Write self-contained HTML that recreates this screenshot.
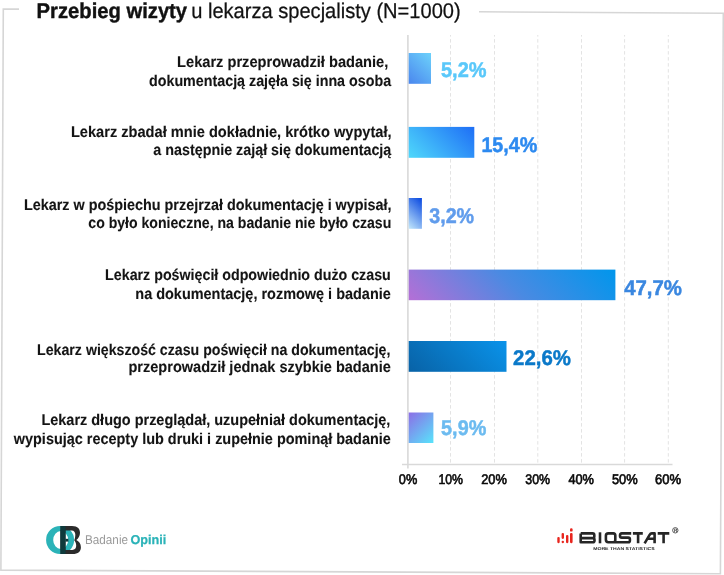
<!DOCTYPE html>
<html><head><meta charset="utf-8"><style>
html,body{margin:0;padding:0;background:#fff;overflow:hidden;width:724px;height:575px;}
svg{display:block;will-change:transform;}
text{font-family:"Liberation Sans", sans-serif;text-rendering:geometricPrecision;}
</style></head><body>
<svg width="724" height="575" viewBox="0 0 724 575">
<defs><linearGradient id="g1" gradientUnits="userSpaceOnUse" x1="406.58" y1="81.68" x2="433.12" y2="55.12"><stop offset="0" stop-color="#4a86ee"/><stop offset="1" stop-color="#6dd2fb"/></linearGradient>
<linearGradient id="g2" gradientUnits="userSpaceOnUse" x1="417.38" y1="166.48" x2="465.62" y2="118.23"><stop offset="0" stop-color="#4fd8fb"/><stop offset="1" stop-color="#1e6ef6"/></linearGradient>
<linearGradient id="g3" gradientUnits="userSpaceOnUse" x1="404.30" y1="224.40" x2="426.30" y2="202.40"><stop offset="0" stop-color="#c4e8fb"/><stop offset="1" stop-color="#0646e0"/></linearGradient>
<linearGradient id="g4" gradientUnits="userSpaceOnUse" x1="452.72" y1="344.22" x2="571.38" y2="225.57"><stop offset="0" stop-color="#b56fd6"/><stop offset="0.5" stop-color="#4a8ae2"/><stop offset="1" stop-color="#0096ec"/></linearGradient>
<linearGradient id="g5" gradientUnits="userSpaceOnUse" x1="425.45" y1="388.55" x2="489.75" y2="324.25"><stop offset="0" stop-color="#0862a6"/><stop offset="1" stop-color="#0a93ea"/></linearGradient>
<linearGradient id="g6" gradientUnits="userSpaceOnUse" x1="407.25" y1="413.95" x2="434.85" y2="441.55"><stop offset="0" stop-color="#8c6ee6"/><stop offset="1" stop-color="#58e4fb"/></linearGradient>
</defs>
<rect x="0" y="0" width="724" height="575" fill="#ffffff"/>
<path d="M19 9.15 L3.3 9.1 L0.9 570.1 L720.4 573.7 L723.3 13.3 L479 11.8" fill="none" stroke="#d6d6d6" stroke-width="1.6"/>
<line x1="450.50" y1="35" x2="450.50" y2="464" stroke="#e3e3e3" stroke-width="1" stroke-dasharray="3.5 2.5" stroke-dashoffset="1.9"/>
<line x1="494.50" y1="35" x2="494.50" y2="464" stroke="#e3e3e3" stroke-width="1" stroke-dasharray="3.5 2.5" stroke-dashoffset="1.9"/>
<line x1="537.80" y1="35" x2="537.80" y2="464" stroke="#e3e3e3" stroke-width="1" stroke-dasharray="3.5 2.5" stroke-dashoffset="1.9"/>
<line x1="581.50" y1="35" x2="581.50" y2="464" stroke="#e3e3e3" stroke-width="1" stroke-dasharray="3.5 2.5" stroke-dashoffset="1.9"/>
<line x1="624.60" y1="35" x2="624.60" y2="464" stroke="#e3e3e3" stroke-width="1" stroke-dasharray="3.5 2.5" stroke-dashoffset="1.9"/>
<line x1="668.30" y1="35" x2="668.30" y2="464" stroke="#e3e3e3" stroke-width="1" stroke-dasharray="3.5 2.5" stroke-dashoffset="1.9"/>
<line x1="407.9" y1="35" x2="407.9" y2="468.6" stroke="#d9d9d9" stroke-width="1.6"/>
<line x1="402" y1="464.4" x2="672.5" y2="464.4" stroke="#d9d9d9" stroke-width="1.5"/>
<rect x="408.7" y="53.0" width="22.30" height="30.80" fill="url(#g1)"/>
<text x="441.00" y="77.40" font-size="21.2" font-weight="bold" fill="#5ac8fa" stroke="#5ac8fa" stroke-width="0.5" textLength="45.50" lengthAdjust="spacingAndGlyphs">5,2%</text>
<rect x="408.7" y="126.9" width="65.60" height="30.90" fill="url(#g2)"/>
<text x="481.40" y="151.90" font-size="21.2" font-weight="bold" fill="#2d8af0" stroke="#2d8af0" stroke-width="0.5" textLength="56.00" lengthAdjust="spacingAndGlyphs">15,4%</text>
<rect x="408.7" y="198.0" width="13.20" height="30.80" fill="url(#g3)"/>
<text x="429.30" y="223.00" font-size="21.2" font-weight="bold" fill="#609cec" stroke="#609cec" stroke-width="0.5" textLength="44.80" lengthAdjust="spacingAndGlyphs">3,2%</text>
<rect x="408.7" y="269.6" width="206.70" height="30.60" fill="url(#g4)"/>
<text x="624.20" y="295.20" font-size="21.2" font-weight="bold" fill="#3a87e0" stroke="#3a87e0" stroke-width="0.5" textLength="57.80" lengthAdjust="spacingAndGlyphs">47,7%</text>
<rect x="408.7" y="341.0" width="97.80" height="30.80" fill="url(#g5)"/>
<text x="513.10" y="365.20" font-size="21.2" font-weight="bold" fill="#0b79c9" stroke="#0b79c9" stroke-width="0.5" textLength="57.80" lengthAdjust="spacingAndGlyphs">22,6%</text>
<rect x="408.7" y="412.5" width="24.70" height="30.50" fill="url(#g6)"/>
<text x="441.10" y="435.00" font-size="21.2" font-weight="bold" fill="#6cbbf0" stroke="#6cbbf0" stroke-width="0.5" textLength="45.20" lengthAdjust="spacingAndGlyphs">5,9%</text>
<text x="177.10" y="66.8" font-size="15.6" font-weight="bold" fill="#141414" stroke="#141414" stroke-width="0.12" textLength="211.20" lengthAdjust="spacingAndGlyphs">Lekarz przeprowadził badanie,</text>
<text x="149.00" y="85.6" font-size="15.6" font-weight="bold" fill="#141414" stroke="#141414" stroke-width="0.12" textLength="242.10" lengthAdjust="spacingAndGlyphs">dokumentacją zajęła się inna osoba</text>
<text x="70.90" y="136.7" font-size="15.6" font-weight="bold" fill="#141414" stroke="#141414" stroke-width="0.12" textLength="320.70" lengthAdjust="spacingAndGlyphs">Lekarz zbadał mnie dokładnie, krótko wypytał,</text>
<text x="153.30" y="154.5" font-size="15.6" font-weight="bold" fill="#141414" stroke="#141414" stroke-width="0.12" textLength="238.00" lengthAdjust="spacingAndGlyphs">a następnie zajął się dokumentacją</text>
<text x="23.90" y="209.5" font-size="15.6" font-weight="bold" fill="#141414" stroke="#141414" stroke-width="0.12" textLength="367.70" lengthAdjust="spacingAndGlyphs">Lekarz w pośpiechu przejrzał dokumentację i wypisał,</text>
<text x="88.30" y="227.6" font-size="15.6" font-weight="bold" fill="#141414" stroke="#141414" stroke-width="0.12" textLength="303.00" lengthAdjust="spacingAndGlyphs">co było konieczne, na badanie nie było czasu</text>
<text x="105.10" y="279.7" font-size="15.6" font-weight="bold" fill="#141414" stroke="#141414" stroke-width="0.12" textLength="285.70" lengthAdjust="spacingAndGlyphs">Lekarz poświęcił odpowiednio dużo czasu</text>
<text x="135.30" y="298.7" font-size="15.6" font-weight="bold" fill="#141414" stroke="#141414" stroke-width="0.12" textLength="255.50" lengthAdjust="spacingAndGlyphs">na dokumentację, rozmowę i badanie</text>
<text x="37.10" y="354.5" font-size="15.6" font-weight="bold" fill="#141414" stroke="#141414" stroke-width="0.12" textLength="353.30" lengthAdjust="spacingAndGlyphs">Lekarz większość czasu poświęcił na dokumentację,</text>
<text x="128.50" y="372.4" font-size="15.6" font-weight="bold" fill="#141414" stroke="#141414" stroke-width="0.12" textLength="262.30" lengthAdjust="spacingAndGlyphs">przeprowadził jednak szybkie badanie</text>
<text x="41.40" y="424.7" font-size="15.6" font-weight="bold" fill="#141414" stroke="#141414" stroke-width="0.12" textLength="349.00" lengthAdjust="spacingAndGlyphs">Lekarz długo przeglądał, uzupełniał dokumentację,</text>
<text x="13.80" y="443.5" font-size="15.6" font-weight="bold" fill="#141414" stroke="#141414" stroke-width="0.12" textLength="377.00" lengthAdjust="spacingAndGlyphs">wypisując recepty lub druki i zupełnie pominął badanie</text>
<text x="398.80" y="483.9" font-size="14" fill="#0a0a0a" stroke="#0a0a0a" stroke-width="0.65" textLength="18.40" lengthAdjust="spacingAndGlyphs">0%</text>
<text x="438.40" y="483.9" font-size="14" fill="#0a0a0a" stroke="#0a0a0a" stroke-width="0.65" textLength="24.60" lengthAdjust="spacingAndGlyphs">10%</text>
<text x="481.20" y="483.9" font-size="14" fill="#0a0a0a" stroke="#0a0a0a" stroke-width="0.65" textLength="25.70" lengthAdjust="spacingAndGlyphs">20%</text>
<text x="525.30" y="483.9" font-size="14" fill="#0a0a0a" stroke="#0a0a0a" stroke-width="0.65" textLength="24.80" lengthAdjust="spacingAndGlyphs">30%</text>
<text x="568.40" y="483.9" font-size="14" fill="#0a0a0a" stroke="#0a0a0a" stroke-width="0.65" textLength="25.60" lengthAdjust="spacingAndGlyphs">40%</text>
<text x="611.90" y="483.9" font-size="14" fill="#0a0a0a" stroke="#0a0a0a" stroke-width="0.65" textLength="25.80" lengthAdjust="spacingAndGlyphs">50%</text>
<text x="655.10" y="483.9" font-size="14" fill="#0a0a0a" stroke="#0a0a0a" stroke-width="0.65" textLength="26.10" lengthAdjust="spacingAndGlyphs">60%</text>
<text x="36.6" y="17.8" font-size="21.3" fill="#111" ><tspan font-weight="bold" stroke="#111" stroke-width="0.4" textLength="150.5" lengthAdjust="spacingAndGlyphs">Przebieg wizyty</tspan></text>
<text x="191.2" y="17.8" font-size="21.3" fill="#111" stroke="#111" stroke-width="0.25" textLength="269.5" lengthAdjust="spacingAndGlyphs">u lekarza specjalisty (N=1000)</text>

<path d="M60.1 526 A14 14 0 1 0 60.1 554 A14 14 0 1 0 60.1 526 Z M60.7 531 A7.5 9 0 1 1 60.7 549 A7.5 9 0 1 1 60.7 531 Z" fill="#2bb3b8" fill-rule="evenodd"/>
<path d="M60.5 526 H72 C78 526 80 529 80 532.8 C80 536 78.3 538.6 76.3 540 C79 541.3 80.9 543.8 80.9 547.2 C80.9 551.3 78.3 554 72.5 554 H60.5 Z M65.4 530.4 V549.9 H72.2 C75 549.9 76.2 548.1 76.2 545.8 C76.2 543.3 75.2 541.5 74.2 540.2 C75 539 75.3 536.6 75.3 534.6 C75.3 532.2 74 530.4 71.8 530.4 Z" fill="#2b2b2b" fill-rule="evenodd"/>
<path d="M60.5 530.2 A14 14 0 0 1 65.4 526.9 V553.1 A14 14 0 0 1 60.5 549.8 Z" fill="#0f3a3c"/>
<rect x="60.5" y="526" width="4.9" height="28" fill="#0f3a3c"/>
<rect x="65.4" y="538.8" width="3" height="2.8" fill="#0f3a3c"/>
<text x="85" y="543.8" font-size="12.8" fill="#9a9a9a" textLength="43" lengthAdjust="spacingAndGlyphs">Badanie</text>
<text x="130.4" y="543.8" font-size="12.8" font-weight="bold" fill="#2bb3b8" stroke="#2bb3b8" stroke-width="0.25" textLength="35.8" lengthAdjust="spacingAndGlyphs">Opinii</text>


<g fill="#e8261e">
 <rect x="557.3" y="536.9" width="2.4" height="6.3" rx="1.1"/>
 <rect x="561.6" y="533" width="2.4" height="5.9" rx="1.1"/>
 <rect x="561.6" y="540.8" width="2.4" height="2.4" rx="1.1"/>
 <rect x="566" y="535" width="2.4" height="8.2" rx="1.1"/>
 <rect x="570" y="528.2" width="2.6" height="3.4" rx="1.2"/>
 <rect x="570" y="533" width="2.6" height="10.2" rx="1.1"/>
</g>
<g fill="none" stroke="#262626" stroke-width="2.6" stroke-linejoin="round" stroke-linecap="butt">
 <path d="M580.7 533.4 H592.6 Q594.3 533.4 594.3 535.2 V536.4 Q594.3 538.1 592.6 538.1 H580.7 M580.7 538.1 H592.8 Q594.5 538.1 594.5 540 V540.4 Q594.5 542.2 592.8 542.2 H580.7 V533.4"/>
 <path d="M600 532.3 V543.3"/>
 <path d="M608.3 533.4 H613.3 Q615.3 533.4 615.3 535.6 V540 Q615.3 542.2 613.3 542.2 H608.3 Q605.9 542.2 605.9 539.8 V535.8 Q605.9 533.4 608.3 533.4 Z M613 542.2 H628.3 Q629.9 542.2 629.9 540.4 V539.5 Q629.9 537.6 628.3 537.6 H621.7 Q620 537.6 620 535.7 Q620 533.4 621.8 533.4 H631.2"/>
 <path d="M632.9 533.4 H642.8 M638.1 533.4 V543.3"/>
 <path d="M644.6 543.3 L649.6 534.8 Q650.4 533.4 651.8 533.4 H654.6 V543.3 M647.3 538.8 H654.6"/>
 <path d="M657.7 533.4 H669.3 M663.6 533.4 V543.3"/>
</g>
<circle cx="675.3" cy="530.3" r="2.7" fill="none" stroke="#333" stroke-width="0.8"/>
<text x="673.9" y="532.1" font-size="4.6" font-weight="bold" fill="#333">R</text>
<text x="593.2" y="549.7" font-size="4.2" font-weight="bold" fill="#262626" textLength="61.5" lengthAdjust="spacingAndGlyphs">MORE THAN STATISTICS</text>

</svg>
</body></html>
